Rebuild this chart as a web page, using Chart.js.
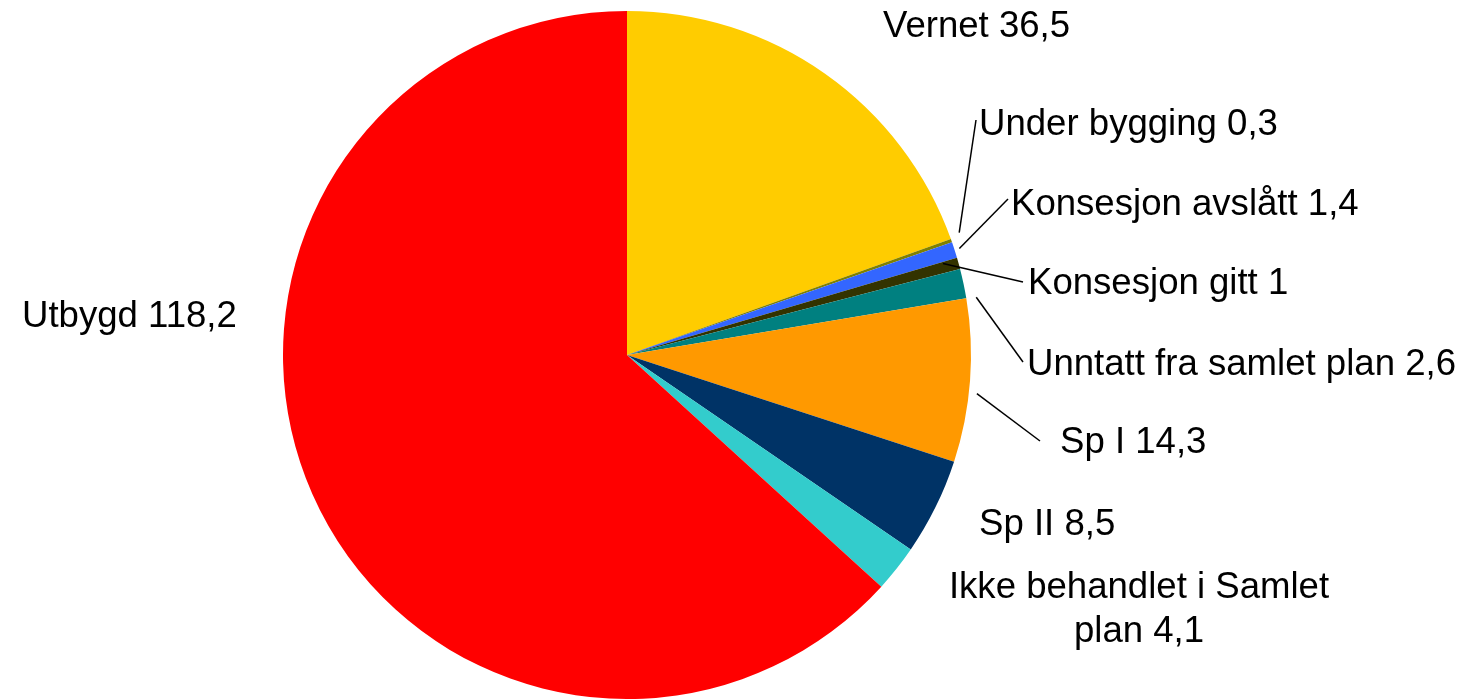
<!DOCTYPE html>
<html>
<head>
<meta charset="utf-8">
<script src="https://cdn.jsdelivr.net/npm/chart.js@4"></script>
<style>
html,body{
    margin:0;
    padding:0;
    background:#ffffff;
}
#wrap{
    width:1470px;
    height:699px;
}
</style>
</head>
<body>
<div id="wrap">
<canvas id="pieChart" width="1470" height="699"></canvas>
</div>
<script>

let categories = [
    'Vernet',
    'Under bygging',
    'Konsesjon avslått',
    'Konsesjon gitt',
    'Unntatt fra samlet plan',
    'Sp I',
    'Sp II',
    'Ikke behandlet i Samlet plan',
    'Utbygd'
]

let values = [
    36.5,
    0.3,
    1.4,
    1,
    2.6,
    14.3,
    8.5,
    4.1,
    118.2
]

let colors = [
    '#FFCC00',
    '#808000',
    '#3366FF',
    '#333300',
    '#008080',
    '#FF9900',
    '#003366',
    '#33CCCC',
    '#FF0000'
]

// label text lines, values written with comma like the original
let labelLines = [
    ['Vernet 36,5'],
    ['Under bygging 0,3'],
    ['Konsesjon avslått 1,4'],
    ['Konsesjon gitt 1'],
    ['Unntatt fra samlet plan 2,6'],
    ['Sp I 14,3'],
    ['Sp II 8,5'],
    ['Ikke behandlet i Samlet', 'plan 4,1'],
    ['Utbygd 118,2']
]

// where each label sits, and leader line tweaks (layout only)
let labelLayout = [
    {x:883, y:37, align:'left'},
    {x:979, y:135, align:'left', lead:{da:-0.8, dr:10, ex:-3, ey:-15}},
    {x:1011, y:215, align:'left', lead:{da:0, dr:5, ex:-3, ey:-16}},
    {x:1028, y:294, align:'left', lead:{da:-0.7, dr:-15, ex:-5, ey:-12}},
    {x:1027, y:375, align:'left', lead:{da:2.6, dr:10, ex:-4, ey:-13}},
    {x:1060, y:453, align:'left', lead:{da:2, dr:8, ex:-20, ey:-12}},
    {x:979, y:535, align:'left'},
    {x:1139, y:598, align:'center'},
    {x:22, y:327, align:'left'}
]

let labelFont = '36.6px "Liberation Sans", Arial, sans-serif'
let lineGap = 44

let pieLabels = {
    id:'pieLabels',
    afterDraw(chart){

        let ctx = chart.ctx
        let meta = chart.getDatasetMeta(0)

        ctx.save()
        ctx.font = labelFont
        ctx.fillStyle = '#000000'
        ctx.strokeStyle = '#000000'
        ctx.lineWidth = 1.5
        ctx.textBaseline = 'alphabetic'

        meta.data.forEach((arc, i) => {

            let lay = labelLayout[i]

            if(lay.lead){

                let mid = (arc.startAngle + arc.endAngle) / 2
                let ang = mid + lay.lead.da * Math.PI / 180
                let r = arc.outerRadius + lay.lead.dr

                ctx.beginPath()
                ctx.moveTo(
                    arc.x + r * Math.cos(ang),
                    arc.y + r * Math.sin(ang)
                )
                ctx.lineTo(
                    lay.x + lay.lead.ex,
                    lay.y + lay.lead.ey
                )
                ctx.stroke()
            }

            ctx.textAlign = lay.align

            labelLines[i].forEach((line, k) => {
                ctx.fillText(
                    line,
                    lay.x,
                    lay.y + k * lineGap
                )
            })
        })

        ctx.restore()
    }
}

new Chart(
    document.getElementById('pieChart'),
    {
        type:'pie',
        data:{
            labels:categories,
            datasets:[{
                data:values,
                backgroundColor:colors,
                borderWidth:0
            }]
        },
        options:{
            responsive:false,
            animation:false,
            layout:{
                padding:{
                    top:11,
                    bottom:0,
                    left:0,
                    right:216
                }
            },
            plugins:{
                legend:{display:false},
                tooltip:{enabled:false}
            }
        },
        plugins:[pieLabels]
    }
)

</script>
</body>
</html>
